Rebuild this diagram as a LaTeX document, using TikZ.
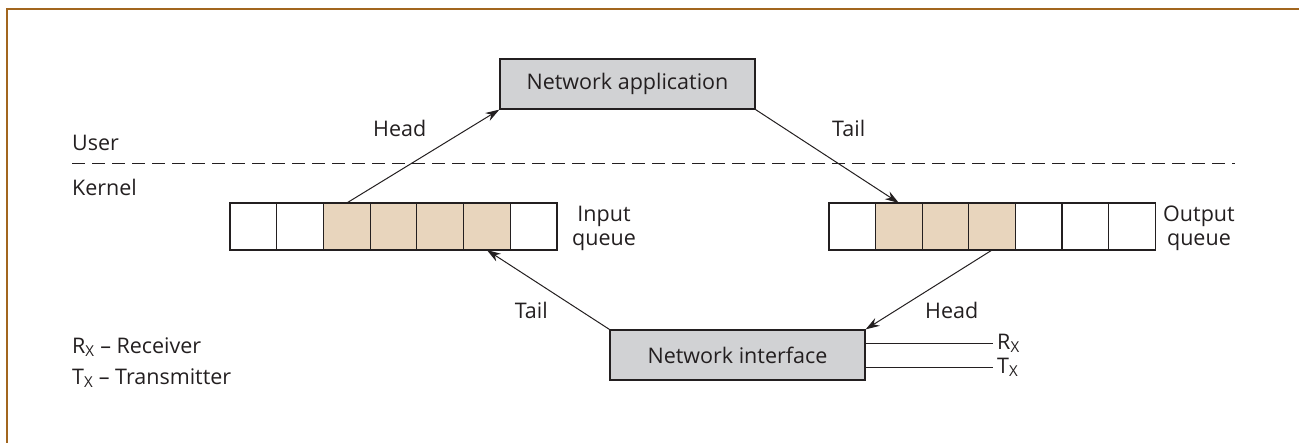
\documentclass[tikz,border=0pt]{standalone}
\usepackage{fontspec}
\setmainfont{Open Sans}
\usetikzlibrary{arrows.meta}
\definecolor{frame}{HTML}{A2661E}
\definecolor{boxgray}{HTML}{D1D2D4}
\definecolor{qfill}{HTML}{E8D5BD}
\definecolor{ink}{HTML}{231F20}
\begin{document}
\begin{tikzpicture}[x=1pt,y=-1pt,
  font=\fontsize{21.5}{24}\selectfont,
  procbox/.style={draw=ink, fill=boxgray, line width=1.2pt, minimum width=255pt, minimum height=50pt, inner sep=0pt, text=ink},
  cell/.style={draw=ink, line width=1.2pt, minimum width=46.7pt, minimum height=47pt, inner sep=0pt, outer sep=0pt},
  arr/.style={-{Stealth[length=14pt,width=9pt]}, line width=1pt, draw=ink},
  lbl/.style={text=ink, inner sep=0pt},
  wire/.style={draw=ink, line width=1pt}]
\useasboundingbox (0,0) rectangle (1299,442);
% frame
\draw[frame, line width=2.6pt, line cap=rect] (7,442) -- (7,9) -- (1299,9);
% boxes
\node[procbox] (napp) at (627.5,84) {Network application};
\node[procbox] (nif) at (737.5,355) {Network interface};
% queues
\foreach \i/\f in {1/white,2/white,3/qfill,4/qfill,5/qfill,6/qfill,7/white}
  \node[cell, fill=\f] (qa\i) at ({230+46.7*(\i-0.5)},226.5) {};
\foreach \i/\f in {1/white,2/qfill,3/qfill,4/qfill,5/white,6/white,7/white}
  \node[cell, fill=\f] (qb\i) at ({829+46.6*(\i-0.5)},226.5) {};
\node[lbl, align=center, anchor=west] (inq) at (572,228) {Input\\queue};
\node[lbl, align=center, anchor=west] (outq) at (1163,228) {Output\\queue};
% user/kernel
\coordinate (dl) at (72,163);
\coordinate (dr) at (1235,163);
\draw[wire, dash pattern=on 13pt off 7pt] (dl) -- (dr);
\node[lbl, anchor=base west] (user) at (72,150) {User};
\node[lbl, anchor=base west] (kern) at (72,195) {Kernel};
% arrows
\draw[arr] (qa3.north) -- (napp.south west);
\draw[arr] (napp.south east) -- (qb2.north);
\draw[arr] (nif.north west) -- (qa6.south);
\draw[arr] (qb4.south) -- (nif.north east);
\node[lbl, anchor=base west] (h1) at (373,136) {Head};
\node[lbl, anchor=base west] (t1) at (832,136) {Tail};
\node[lbl, anchor=base east] (t2) at (548,318) {Tail};
\node[lbl, anchor=base west] (h2) at (925,318) {Head};
% Rx / Tx lines
\coordinate (rxe) at (993,343);
\coordinate (txe) at (993,367);
\draw[wire] (nif.east |- rxe) -- (rxe);
\draw[wire] (nif.east |- txe) -- (txe);
\node[lbl, anchor=base west] (rx) at (997,349) {R\textsubscript{X}};
\node[lbl, anchor=base west] (tx) at (997,373) {T\textsubscript{X}};
% legend
\node[lbl, anchor=base west] (lr) at (72,353) {R\textsubscript{X} – Receiver};
\node[lbl, anchor=base west] (lt) at (72,384) {T\textsubscript{X} – Transmitter};
\end{tikzpicture}
\end{document}
